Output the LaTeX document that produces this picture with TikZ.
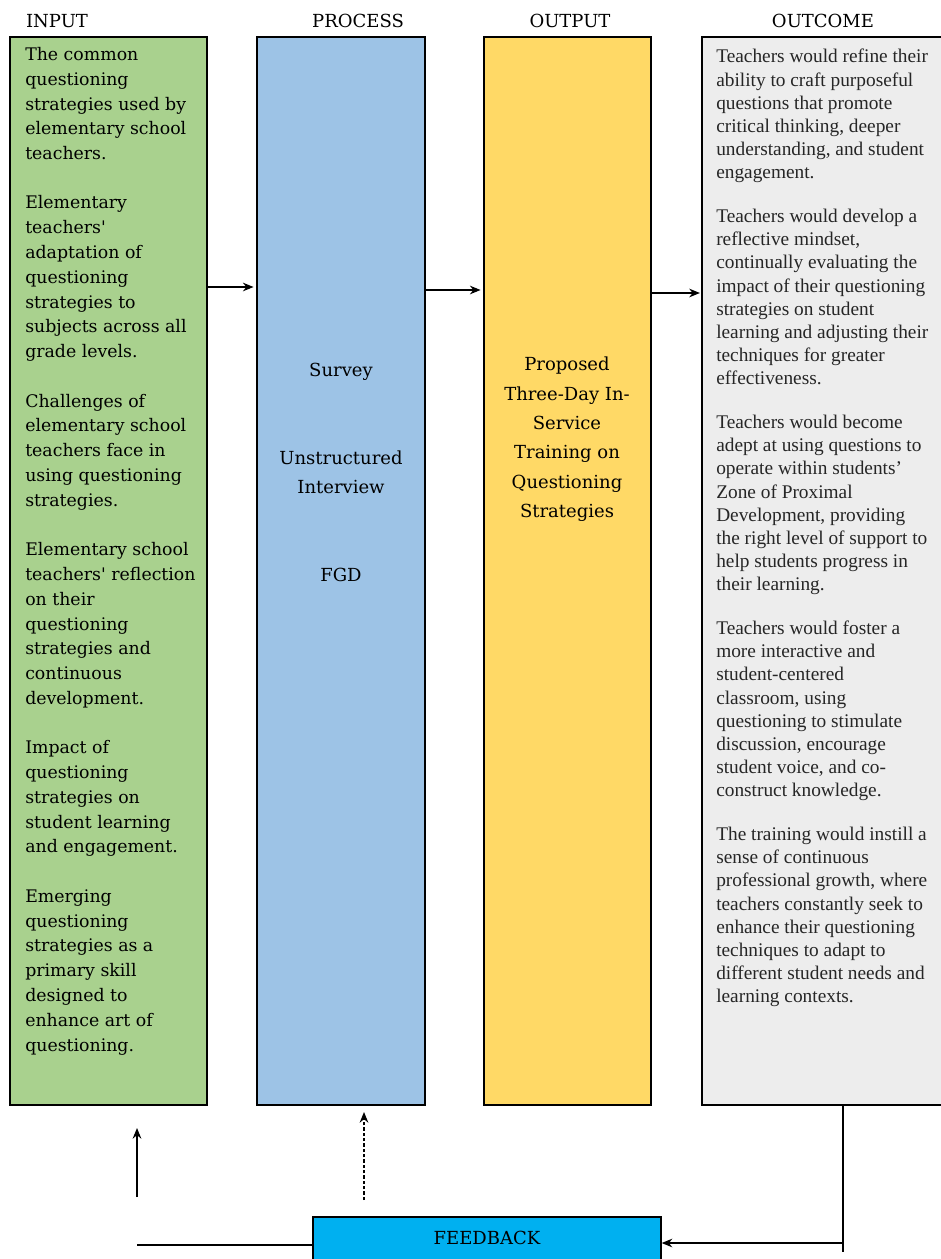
\documentclass[tikz,border=0pt]{standalone}
\usepackage{fontspec}
\setmainfont{Liberation Serif}
\newfontfamily\slabfont{DejaVu Serif}
\usetikzlibrary{arrows.meta, fit}

\definecolor{inputgreen}{HTML}{A9D18E}
\definecolor{processblue}{HTML}{9DC3E6}
\definecolor{outputyellow}{HTML}{FFD966}
\definecolor{outcomegray}{HTML}{EDEDED}
\definecolor{feedbackcyan}{HTML}{00B0F0}

\begin{document}
\begin{tikzpicture}[%
        x = 0.75pt, y = -0.75pt,
        box/.style = {draw, line width = 1.2pt, inner sep = 0pt},
        flow/.style = {-{Stealth[length = 8pt, width = 6.5pt]}, line width = 1pt},
        heading/.style = {font = \slabfont\fontsize{13.5}{16}\selectfont},
        slabtext/.style = {inner sep = 0pt, font = \slabfont\fontsize{13}{18.6}\selectfont},
        serieftext/.style = {inner sep = 0pt, text = black!85, font = \fontsize{14.5}{17.4}\selectfont}
    ]

        % Page frame.
        \useasboundingbox (0,0) rectangle (940,1259);

        % The four columns (the last one runs off the page).
        \node[box, fill = inputgreen,   fit = {(10,37) (207,1105)}]  (input)   {};
        \node[box, fill = processblue,  fit = {(257,37) (425,1105)}] (process) {};
        \node[box, fill = outputyellow, fit = {(484,37) (651,1105)}] (output)  {};
        \node[box, fill = outcomegray,  fit = {(702,37) (948,1105)}] (outcome) {};

        % Column headings.
        \node[heading] (inputhead)   at (57,21)  {INPUT};
        \node[heading] (processhead) at (358,21) {PROCESS};
        \node[heading] (outputhead)  at (570,21) {OUTPUT};
        \node[heading] (outcomehead) at (823,21) {OUTCOME};

        % Inputs.
        \node[slabtext, anchor = north west, align = left] (inputtext) at (25,47) {%
            The common\\ questioning\\ strategies used by\\ elementary school\\ teachers.\\[18.4pt]
            Elementary\\ teachers'\\ adaptation of\\ questioning\\ strategies to\\ subjects across all\\ grade levels.\\[18.4pt]
            Challenges of\\ elementary school\\ teachers face in\\ using questioning\\ strategies.\\[18.4pt]
            Elementary school\\ teachers' reflection\\ on their\\ questioning\\ strategies and\\ continuous\\ development.\\[18.4pt]
            Impact of\\ questioning\\ strategies on\\ student learning\\ and engagement.\\[18.4pt]
            Emerging\\ questioning\\ strategies as a\\ primary skill\\ designed to\\ enhance art of\\ questioning.};

        % Methods.
        \node[slabtext, anchor = north, align = center,
              font = \slabfont\fontsize{13.5}{21.8}\selectfont] (processtext) at (341,363) {%
            Survey\\[44pt] Unstructured\\ Interview\\[44pt] FGD};

        % The training program.
        \node[slabtext, anchor = north, align = center,
              font = \slabfont\fontsize{13.5}{22}\selectfont] (outputtext) at (567,357) {%
            Proposed\\ Three-Day In-\\ Service\\ Training on\\ Questioning\\ Strategies};

        % Expected outcomes.
        \node[serieftext, anchor = north west, align = left] (outcometext) at (716,49) {%
            Teachers would refine their\\ ability to craft purposeful\\ questions that promote\\ critical thinking, deeper\\ understanding, and student\\ engagement.\\[15.3pt]
            Teachers would develop a\\ reflective mindset,\\ continually evaluating the\\ impact of their questioning\\ strategies on student\\ learning and adjusting their\\ techniques for greater\\ effectiveness.\\[15.3pt]
            Teachers would become\\ adept at using questions to\\ operate within students'\\ Zone of Proximal\\ Development, providing\\ the right level of support to\\ help students progress in\\ their learning.\\[15.3pt]
            Teachers would foster a\\ more interactive and\\ student-centered\\ classroom, using\\ questioning to stimulate\\ discussion, encourage\\ student voice, and co-\\ construct knowledge.\\[15.3pt]
            The training would instill a\\ sense of continuous\\ professional growth, where\\ teachers constantly seek to\\ enhance their questioning\\ techniques to adapt to\\ different student needs and\\ learning contexts.};

        % Feedback box at the foot of the page.
        \node[box, line width = 1pt, fill = feedbackcyan, fit = {(313,1217) (661,1268)}] (feedback) {};
        \node[heading] (feedbacktext) at (487,1238) {FEEDBACK};

        % Levels and loose ends of the connectors.
        \coordinate (inlevel)   at (0,287);
        \coordinate (proclevel) at (0,290);
        \coordinate (outlevel)  at (0,293);
        \coordinate (fbturn)    at (843,1243);
        \coordinate (fbend)     at (843,1252);
        \coordinate (fbleft)    at (137,1245);
        \coordinate (inback)    at (137,1197);
        \coordinate (procback)  at (364,1200);

        % Main flow from left to right.
        \draw[flow, shorten > = 2pt] (input.east |- inlevel)  -- (process.west |- inlevel);
        \draw[flow, shorten > = 2pt] (process.east |- proclevel) -- (output.west |- proclevel);
        \draw[flow, shorten > = 1pt] (output.east |- outlevel) -- (outcome.west |- outlevel);

        % Feedback loop.
        \draw[line width = 1pt] (fbturn |- outcome.south) -- (fbend);
        \draw[flow] (fbturn) -- (feedback.east |- fbturn);
        \draw[line width = 1pt] (feedback.west |- fbleft) -- (fbleft);
        \draw[flow] (inback) -- ++(0,-69);
        \draw[flow, dash pattern = on 2.5pt off 1.5pt] (procback) -- ++(0,-88);
    \end{tikzpicture}
\end{document}
